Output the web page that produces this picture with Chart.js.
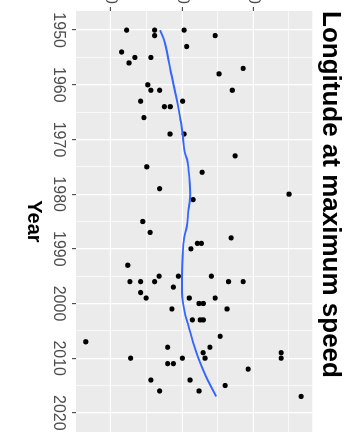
<!DOCTYPE html>
<html>
<head>
<meta charset="utf-8">
<script src="https://cdn.jsdelivr.net/npm/chart.js@4.4.1/dist/chart.umd.min.js"></script>
<style>
  html, body { margin: 0; padding: 0; background: #fff; overflow: hidden; width: 360px; height: 436px; }
  /* chart is drawn landscape, then turned a quarter clockwise like the reference */
  #wrap { position: absolute; left: 360px; top: -40px; width: 476px; height: 360px;
          transform-origin: 0 0; transform: rotate(90deg); }
</style>
</head>
<body>
<div id="wrap"><canvas id="chart" width="476" height="360"></canvas></div>
<script>
// ---- data ----
const pointYears = [
  1950, 1950, 1951, 1950, 1951, 1953, 1954, 1955, 1955, 1956,
  1958, 1957, 1960, 1961, 1961, 1961, 1963, 1963, 1964, 1964,
  1966, 1969, 1969, 1973, 1975, 1976, 1979, 1980, 1981, 1985,
  1987, 1988, 1989, 1989, 1990, 1993, 1996, 1996, 1996, 1995,
  1995, 1995, 1996, 1996, 1997, 1998, 1999, 1999, 1999, 2000,
  2000, 2001, 2001, 2003, 2003, 2003, 2007, 2006, 2008, 2008,
  2009, 2010, 2010, 2010, 2009, 2010, 2011, 2011, 2012, 2014,
  2014, 2015, 2016, 2016, 2017
];
const pointLongitudes = [
  -83.3, -71.5, -71.5, -59.1, -46.0, -58.0, -85.4, -79.8, -73.1, -82.3,
  -44.4, -34.2, -74.4, -73.1, -69.4, -38.8, -77.4, -59.7, -67.4, -64.9,
  -76.0, -65.0, -59.1, -37.6, -74.8, -51.5, -69.4, -14.9, -55.3, -76.5,
  -73.4, -39.3, -53.5, -51.8, -56.2, -82.8, -81.9, -77.4, -71.5, -69.6,
  -61.5, -47.6, -40.4, -34.2, -63.6, -77.4, -75.1, -56.9, -46.0, -52.8,
  -51.0, -64.2, -41.0, -55.6, -52.3, -51.0, -100.5, -43.9, -66.0, -48.2,
  -51.1, -81.6, -59.8, -50.3, -18.2, -18.2, -66.0, -63.6, -32.1, -73.1,
  -56.6, -41.8, -69.4, -52.8, -9.8
];

// loess trend line
const smoothYears = [1950, 1952, 1957, 1962, 1966, 1969, 1972, 1974, 1977, 1980, 1983,
                     1986, 1988, 1991, 1995, 1998, 2002, 2004, 2007, 2010, 2013, 2017];
const smoothLongitudes = [-69.2, -67.4, -65.0, -62.5, -60.8, -59.7, -59.0, -57.7, -56.9, -56.5, -57.3,
                          -58.0, -59.1, -59.7, -60.0, -60.0, -58.7, -57.3, -55.4, -53.1, -50.3, -45.6];

const yearTicks = [1950, 1960, 1970, 1980, 1990, 2000, 2010, 2020];
const yearMinorTicks = [1955, 1965, 1975, 1985, 1995, 2005, 2015];
const lonTicks = [-90, -60, -30];
const lonMinorTicks = [-75, -45, -15];

// ---- ggplot-ish styling ----
const FONT = "'Liberation Sans', Arial, sans-serif";
Chart.defaults.font.family = FONT;

const isMajor = (list, ctx) => !!ctx.tick && list.includes(ctx.tick.value);

// grey panel behind the grid, white around it
const panelBg = {
  id: 'panelBg',
  afterLayout(chart) {
    // title sits flush with the panel, not the canvas edge
    if (chart.titleBlock) chart.titleBlock.left = chart.chartArea.left;
  },
  beforeDraw(chart) {
    const { ctx, chartArea: a, width, height } = chart;
    ctx.save();
    ctx.fillStyle = '#FFFFFF';
    ctx.fillRect(0, 0, width, height);
    ctx.fillStyle = '#EBEBEB';
    ctx.fillRect(a.left, a.top, a.right - a.left, a.bottom - a.top);
    ctx.restore();
  },
};

const gridFor = (major) => ({
  color: '#FFFFFF',
  lineWidth: ctx => isMajor(major, ctx) ? 1.3 : 0.7,
  tickColor: ctx => isMajor(major, ctx) ? '#333333' : 'rgba(0,0,0,0)',
  tickLength: 4,
  tickWidth: 1,
});

new Chart(document.getElementById('chart'), {
  data: {
    datasets: [
      {
        type: 'line',
        label: 'trend',
        data: smoothYears.map((y, i) => ({ x: y, y: smoothLongitudes[i] })),
        borderColor: '#3366FF',
        borderWidth: 1.9,
        pointRadius: 0,
        fill: false,
        cubicInterpolationMode: 'monotone',
      },
      {
        type: 'scatter',
        label: 'storms',
        data: pointYears.map((y, i) => ({ x: y, y: pointLongitudes[i] })),
        backgroundColor: '#000000',
        borderWidth: 0,
        pointRadius: 2.6,
      },
    ],
  },
  options: {
    responsive: false,
    animation: false,
    events: [],
    layout: { padding: { left: 40, right: 3.6, top: 0, bottom: 0 } },
    plugins: {
      legend: { display: false },
      tooltip: { enabled: false },
      title: {
        display: true,
        text: 'Longitude at maximum speed',
        position: 'top',
        align: 'start',
        color: '#000000',
        font: { size: 26, weight: 'bold' },
        padding: { top: 13.9, bottom: 2.6 },
      },
    },
    scales: {
      x: {
        type: 'linear',
        min: 1946.5,
        max: 2023.5,
        afterBuildTicks: s => { s.ticks = yearTicks.concat(yearMinorTicks).map(v => ({ value: v })); },
        afterFit: s => { s.height = 76; },
        grid: gridFor(yearTicks),
        border: { display: false },
        ticks: {
          autoSkip: false,
          maxRotation: 0,
          minRotation: 0,
          padding: 4,
          color: '#4D4D4D',
          font: { size: 16 },
          callback: v => yearTicks.includes(v) ? String(v) : '',
        },
        title: {
          display: true,
          text: 'Year',
          color: '#000000',
          font: { size: 20, weight: 'bold' },
          padding: { top: 0, bottom: 21.6 },
        },
      },
      y: {
        type: 'linear',
        min: -104.63,
        max: -5.13,
        afterBuildTicks: s => { s.ticks = lonTicks.concat(lonMinorTicks).map(v => ({ value: v })); },
        afterFit: s => { s.width = 11; },
        grid: gridFor(lonTicks),
        border: { display: false },
        ticks: {
          autoSkip: false,
          padding: 3,
          color: '#4D4D4D',
          font: { size: 16 },
          callback: v => lonTicks.includes(v) ? String(v) : '',
        },
      },
    },
  },
  plugins: [panelBg],
});
</script>
</body>
</html>
